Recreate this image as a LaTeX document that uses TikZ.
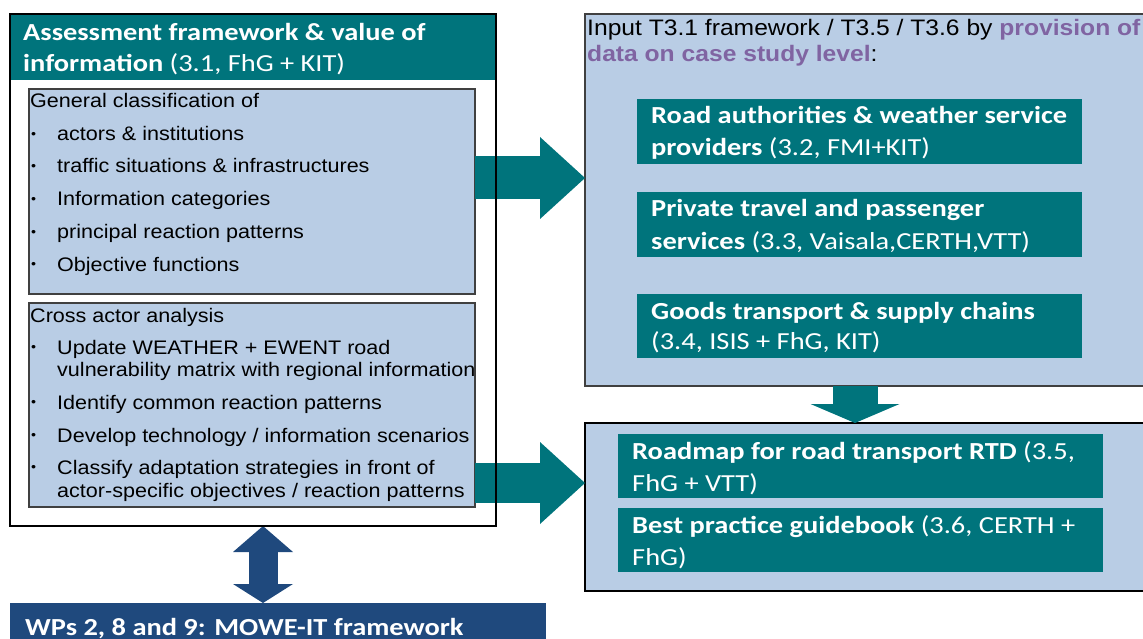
\documentclass[tikz,border=0pt]{standalone}
\usepackage{fontspec}
\usetikzlibrary{arrows.meta}
\newfontfamily\arialf{Liberation Sans}[FakeStretch=1.1]
\newfontfamily\calf{Carlito}[FakeStretch=1.16]
\definecolor{tealc}{RGB}{0,116,124}
\definecolor{lightc}{RGB}{185,205,229}
\definecolor{purplec}{RGB}{128,100,162}
\definecolor{wpbluec}{RGB}{31,73,125}
\newcommand{\itm}{\makebox[26pt][l]{\raisebox{2.5pt}{\fontsize{13}{13}\selectfont •}}}
\begin{document}
\begin{tikzpicture}[x=1pt,y=-1pt,
  box/.style={rectangle, anchor=north west, inner sep=0pt, outer sep=0pt},
  lightbox/.style={box, fill=lightc, draw=black!75, line width=1.3pt},
  tealbox/.style={box, fill=tealc},
  ln/.style={anchor=base west, inner sep=0pt, font=\arialf\fontsize{19.6}{22}\selectfont},
  hd/.style={anchor=base west, inner sep=0pt, text=white, font=\calf\fontsize{24.5}{28}\selectfont}]
\useasboundingbox (0,0) rectangle (1143,639);
\clip (0,0) rectangle (1143,639);
\node[box, fill=white, minimum width=486pt, minimum height=512pt] (assess) at (10,14){};
\node[tealbox, minimum width=486pt, minimum height=66pt] (assesshead) at (10,14){};
\node[hd] (hd1) at (23,41){\bfseries Assessment framework \& value of};
\node[hd] (hd2) at (23,72){\textbf{information} (3.1, FhG + KIT)};
\node[lightbox, minimum width=446pt, minimum height=205pt] (classif) at (29,89){};
\node[ln] (cl0) at (30,108){General classification of};
\node[ln] (cl1) at (31,141){\itm actors \& institutions};
\node[ln] (cl2) at (31,173){\itm traffic situations \& infrastructures};
\node[ln] (cl3) at (31,206){\itm Information categories};
\node[ln] (cl4) at (31,239){\itm principal reaction patterns};
\node[ln] (cl5) at (31,271){\itm Objective functions};
\node[lightbox, minimum width=446pt, minimum height=204pt] (cross) at (29,303){};
\node[ln] (cr0) at (30,322){Cross actor analysis};
\node[ln] (cr1) at (31,354){\itm Update WEATHER + EWENT road};
\node[ln] (cr1b) at (57,376){vulnerability matrix with regional information};
\node[ln] (cr2) at (31,409){\itm Identify common reaction patterns};
\node[ln] (cr3) at (31,442){\itm Develop technology / information scenarios};
\node[ln] (cr4) at (31,474){\itm Classify adaptation strategies in front of};
\node[ln] (cr4b) at (57,497){actor-specific objectives / reaction patterns};
\node[lightbox, minimum width=575pt, minimum height=372pt] (input) at (585,14){};
\node[ln, font=\arialf\fontsize{22.4}{26}\selectfont] (in1) at (587,36){Input T3.1 framework / T3.5 / T3.6 by \textcolor{purplec}{\bfseries provision of}};
\node[ln, font=\arialf\fontsize{22.4}{26}\selectfont] (in2) at (587,62){\textcolor{purplec}{\bfseries data on case study level}:};
\node[tealbox, minimum width=445pt, minimum height=65pt] (roadauth) at (637,99){};
\node[hd] (ra1) at (651,124){\bfseries Road authorities \& weather service};
\node[hd] (ra2) at (651,156){\textbf{providers} (3.2, FMI+KIT)};
\node[tealbox, minimum width=445pt, minimum height=65pt] (travel) at (637,192){};
\node[hd] (pt1) at (651,217){\bfseries Private travel and passenger};
\node[hd] (pt2) at (651,249){\textbf{services} (3.3, Vaisala,CERTH,VTT)};
\node[tealbox, minimum width=445pt, minimum height=64pt] (goods) at (637,294){};
\node[hd] (gt1) at (651,319){\bfseries Goods transport \& supply chains};
\node[hd] (gt2) at (651,349){(3.4, ISIS + FhG, KIT)};
\node[lightbox, draw=black, line width=2pt, minimum width=575pt, minimum height=168pt] (output) at (585,423){};
\node[tealbox, minimum width=485pt, minimum height=64pt] (roadmap) at (618,434){};
\node[hd] (rm1) at (632,459){\textbf{Roadmap for road transport RTD} (3.5,};
\node[hd] (rm2) at (632,491){FhG + VTT)};
\node[tealbox, minimum width=485pt, minimum height=64pt] (guide) at (618,508){};
\node[hd] (bp1) at (632,533){\textbf{Best practice guidebook} (3.6, CERTH +};
\node[hd] (bp2) at (632,565){FhG)};
\node[box, fill=wpbluec, minimum width=536pt, minimum height=50pt] (mowe) at (10,603){};
\node[hd] (mw1) at (25,635){\bfseries WPs 2, 8 and 9: MOWE-IT framework};
\coordinate (a1) at (475,178);
\coordinate (a2) at (475,483);
\coordinate (dcol) at (855,0);
\coordinate (wcol) at (263,0);
\draw[tealc, line width=43pt, -{Triangle[length=45pt, width=82pt, line width=0pt]}] (a1) -- (a1 -| input.west);
\draw[tealc, line width=40pt, -{Triangle[length=45pt, width=82pt, line width=0pt]}] (a2) -- (a2 -| output.west);
\draw[tealc, line width=45pt, -{Triangle[length=19pt, width=89pt, line width=0pt]}] (input.south -| dcol) -- (output.north -| dcol);
\draw[wpbluec, line width=29pt, {Triangle[length=19pt, width=60pt, line width=0pt]}-{Triangle[length=26pt, width=60pt, line width=0pt]}] (mowe.north -| wcol) -- (assess.south -| wcol);
\draw[line width=2pt] (assess.north west) rectangle (assess.south east);
\end{tikzpicture}
\end{document}
